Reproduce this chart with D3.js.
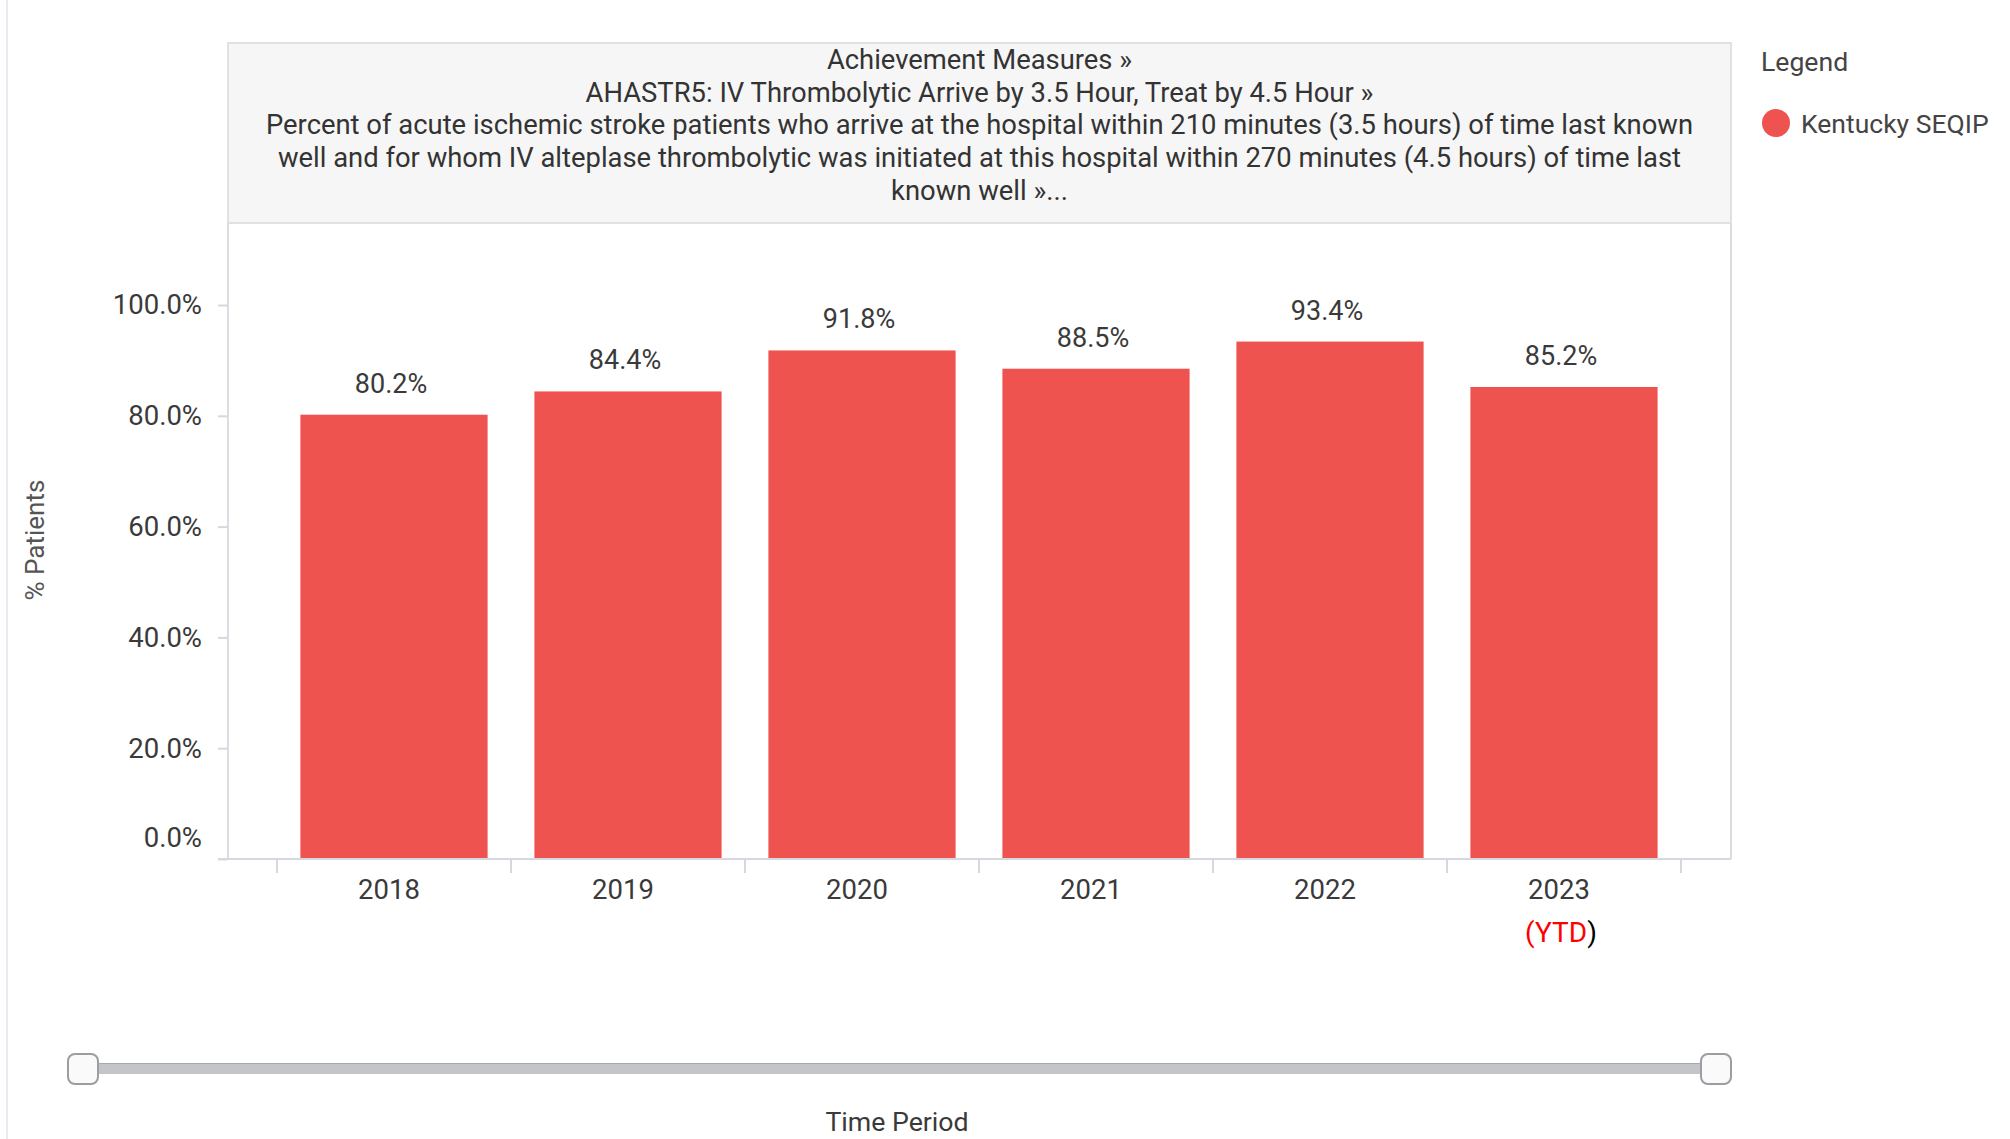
<!DOCTYPE html>
<html>
<head>
<meta charset="utf-8">
<script src="https://cdn.jsdelivr.net/npm/d3@7"></script>
<style>
  body { margin: 0; background: #fff; }
  text { font-family: Roboto, "Noto Sans", sans-serif; }
</style>
</head>
<body>
<div id="chart"></div>
<script>
// Data
var years = ["2018", "2019", "2020", "2021", "2022", "2023"];
var values = [80.2, 84.4, 91.8, 88.5, 93.4, 85.2];
var yTicks = [0, 20, 40, 60, 80, 100];
var titleLines = [
  "Achievement Measures \u00bb",
  "AHASTR5: IV Thrombolytic Arrive by 3.5 Hour, Treat by 4.5 Hour \u00bb",
  "Percent of acute ischemic stroke patients who arrive at the hospital within 210 minutes (3.5 hours) of time last known",
  "well and for whom IV alteplase thrombolytic was initiated at this hospital within 270 minutes (4.5 hours) of time last",
  "known well \u00bb..."
];
var seriesName = "Kentucky SEQIP";

////////////////////////// Set-Up //////////////////////////
var width = 2010, height = 1139;
var frame = {left: 228, right: 1731, top: 43, headerBottom: 223, bottom: 859};
var barColor = "#ef5350",
    gridColor = "#d6d8e0",
    textColor = "#3a3a3a";

var svg = d3.select("#chart").append("svg")
  .attr("width", width)
  .attr("height", height);

// faint page edge on the left
svg.append("line")
  .attr("x1", 7).attr("x2", 7).attr("y1", 0).attr("y2", height)
  .style("stroke", "#e9ebf2").style("stroke-width", 2);

var x = d3.scaleBand()
  .domain(years)
  .range([277, 1681])
  .paddingInner(0.2)
  .paddingOuter(0.1);

var y = d3.scaleLinear()
  .domain([0, 100])
  .range([frame.bottom, 305]);

// Header box
svg.append("rect")
  .attr("x", frame.left).attr("y", frame.top)
  .attr("width", frame.right - frame.left)
  .attr("height", frame.headerBottom - frame.top)
  .style("fill", "#f6f6f6")
  .style("stroke", "#e1e1e1")
  .style("stroke-width", 2);

svg.append("g").selectAll("text")
  .data(titleLines)
  .enter().append("text")
  .attr("x", (frame.left + frame.right) / 2)
  .attr("y", function(d, i) { return 59 + i * 32.8; })
  .attr("dy", "0.36em")
  .attr("text-anchor", "middle")
  .style("font-size", "27.4px")
  .style("fill", "#333")
  .text(function(d) { return d; });

// Plot frame sides
svg.append("path")
  .attr("d", "M" + frame.left + "," + frame.headerBottom + "V" + frame.bottom +
             "M" + frame.right + "," + frame.headerBottom + "V" + frame.bottom)
  .style("fill", "none")
  .style("stroke", "#dcdde3")
  .style("stroke-width", 2);

// Bars
svg.append("g").selectAll("rect")
  .data(values)
  .enter().append("rect")
  .attr("x", function(d, i) { return x(years[i]); })
  .attr("y", function(d) { return y(d); })
  .attr("width", x.bandwidth())
  .attr("height", function(d) { return y(0) - y(d); })
  .style("fill", barColor);

// Value labels
svg.append("g").selectAll("text")
  .data(values)
  .enter().append("text")
  .attr("x", function(d, i) { return x(years[i]) + x.bandwidth() / 2 - 3; })
  .attr("y", function(d) { return y(d) - 22; })
  .attr("text-anchor", "middle")
  .style("font-size", "27px")
  .style("fill", textColor)
  .text(function(d) { return d.toFixed(1) + "%"; });

// Y axis
var yAxis = svg.append("g")
  .attr("transform", "translate(" + frame.left + ",0)")
  .call(d3.axisLeft(y).tickValues(yTicks).tickSize(10).tickPadding(16)
        .tickFormat(function(d) { return d.toFixed(1) + "%"; }));
yAxis.select(".domain").remove();
yAxis.selectAll(".tick line").style("stroke", gridColor).style("stroke-width", 2);
yAxis.selectAll(".tick text")
  .style("font-size", "27.5px")
  .style("font-family", "Roboto, sans-serif")
  .style("fill", textColor)
  .attr("dy", function(d) { return d === 0 ? "-0.45em" : "0.32em"; });

// X axis baseline + boundary ticks
svg.append("line")
  .attr("x1", 218).attr("x2", frame.right)
  .attr("y1", frame.bottom).attr("y2", frame.bottom)
  .style("stroke", gridColor).style("stroke-width", 2);

var bounds = years.map(function(d) { return x(d) - x.step() * x.paddingInner() / 2; });
bounds.push(x(years[years.length - 1]) + x.bandwidth() + x.step() * x.paddingInner() / 2);
svg.append("g").selectAll("line")
  .data(bounds)
  .enter().append("line")
  .attr("x1", function(d) { return d; }).attr("x2", function(d) { return d; })
  .attr("y1", frame.bottom).attr("y2", frame.bottom + 14)
  .style("stroke", gridColor).style("stroke-width", 2);

var xAxis = svg.append("g")
  .attr("transform", "translate(-5," + frame.bottom + ")")
  .call(d3.axisBottom(x).tickSize(0).tickPadding(20));
xAxis.select(".domain").remove();
xAxis.selectAll(".tick text")
  .style("font-size", "27.5px")
  .style("font-family", "Roboto, sans-serif")
  .style("fill", textColor);

// (YTD) note under last year
var ytd = svg.append("text")
  .attr("x", x("2023") + x.bandwidth() / 2 - 3)
  .attr("y", 932)
  .attr("dy", "0.36em")
  .attr("text-anchor", "middle")
  .style("font-size", "28px");
ytd.append("tspan").style("fill", "#ff0000").text("(YTD");
ytd.append("tspan").style("fill", "#000").text(")");

// Y axis title
svg.append("text")
  .attr("transform", "translate(35,540) rotate(-90)")
  .attr("dy", "0.36em")
  .attr("text-anchor", "middle")
  .style("font-size", "26px")
  .style("fill", "#555")
  .text("% Patients");

// Legend
svg.append("text")
  .attr("x", 1761).attr("y", 61)
  .attr("dy", "0.36em")
  .style("font-size", "26.6px")
  .style("fill", "#444")
  .text("Legend");
svg.append("circle")
  .attr("cx", 1776).attr("cy", 123).attr("r", 14)
  .style("fill", barColor);
svg.append("text")
  .attr("x", 1801).attr("y", 123)
  .attr("dy", "0.36em")
  .style("font-size", "26.5px")
  .style("fill", "#444")
  .text(seriesName);

// Time slider
var slider = svg.append("g");
slider.append("rect")
  .attr("x", 82).attr("y", 1063)
  .attr("width", 1715 - 82).attr("height", 11)
  .style("fill", "#c4c5c9");
slider.append("line")
  .attr("x1", 82).attr("x2", 1715).attr("y1", 1063.5).attr("y2", 1063.5)
  .style("stroke", "#a9aaaf").style("stroke-width", 1);
slider.selectAll(".handle")
  .data([83, 1716])
  .enter().append("rect")
  .attr("class", "handle")
  .attr("x", function(d) { return d - 15; })
  .attr("y", 1054)
  .attr("width", 30).attr("height", 30)
  .attr("rx", 7)
  .style("fill", "#fafafa")
  .style("stroke", "#9c9da2")
  .style("stroke-width", 2);

svg.append("text")
  .attr("x", 897).attr("y", 1121)
  .attr("dy", "0.36em")
  .attr("text-anchor", "middle")
  .style("font-size", "26.7px")
  .style("fill", textColor)
  .text("Time Period");
</script>
</body>
</html>
